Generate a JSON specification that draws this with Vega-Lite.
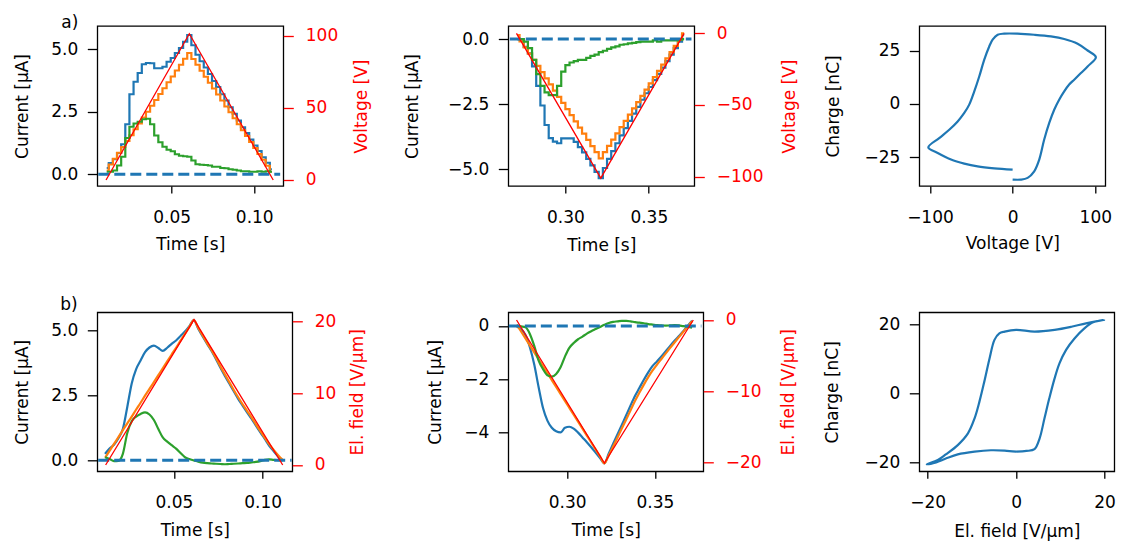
{
"$schema": "https://vega.github.io/schema/vega-lite/v6.json",
"background": "white",
"padding": {"left": 12.3, "top": 13, "right": 2, "bottom": 2},
"datasets": {
"p1": [
{"t":0.0107,"b":0.25,"o":0.15,"g":0.1},{"t":0.0132,"b":0.45,"o":0.39,"g":0.1},{"t":0.0157,"b":0.6,"o":0.62,"g":0.15},{"t":0.0182,"b":0.85,"o":0.86,"g":0.35},{"t":0.0207,"b":1.2,"o":1.09,"g":0.7},{"t":0.0232,"b":2.0,"o":1.33,"g":1.45},{"t":0.0257,"b":3.2,"o":1.56,"g":1.9},{"t":0.0282,"b":3.7,"o":1.8,"g":2.03},{"t":0.0307,"b":4.05,"o":2.03,"g":2.1},{"t":0.0332,"b":4.4,"o":2.27,"g":2.2},{"t":0.0357,"b":4.45,"o":2.5,"g":2.22},{"t":0.0382,"b":4.44,"o":2.74,"g":2.0},{"t":0.0407,"b":4.24,"o":2.97,"g":1.55},{"t":0.0432,"b":4.24,"o":3.21,"g":1.28},{"t":0.0457,"b":4.3,"o":3.44,"g":1.1},{"t":0.0482,"b":4.5,"o":3.68,"g":0.98},{"t":0.0507,"b":4.65,"o":3.91,"g":0.92},{"t":0.0532,"b":4.85,"o":4.15,"g":0.8},{"t":0.0557,"b":5.05,"o":4.38,"g":0.74},{"t":0.0582,"b":5.3,"o":4.62,"g":0.72},{"t":0.0607,"b":5.57,"o":4.85,"g":0.7},{"t":0.0632,"b":5.16,"o":4.61,"g":0.55},{"t":0.0657,"b":4.78,"o":4.38,"g":0.4},{"t":0.0682,"b":4.52,"o":4.14,"g":0.38},{"t":0.0707,"b":4.27,"o":3.9,"g":0.37},{"t":0.0732,"b":4.01,"o":3.66,"g":0.35},{"t":0.0757,"b":3.73,"o":3.43,"g":0.3},{"t":0.0782,"b":3.49,"o":3.19,"g":0.3},{"t":0.0807,"b":3.2,"o":2.95,"g":0.25},{"t":0.0832,"b":2.95,"o":2.71,"g":0.24},{"t":0.0857,"b":2.68,"o":2.48,"g":0.2},{"t":0.0882,"b":2.42,"o":2.24,"g":0.18},{"t":0.0907,"b":2.15,"o":2.0,"g":0.15},{"t":0.0932,"b":1.88,"o":1.76,"g":0.12},{"t":0.0957,"b":1.65,"o":1.53,"g":0.12},{"t":0.0982,"b":1.39,"o":1.29,"g":0.1},{"t":0.1007,"b":1.15,"o":1.05,"g":0.1},{"t":0.1032,"b":0.93,"o":0.81,"g":0.12},{"t":0.1057,"b":0.68,"o":0.58,"g":0.1},{"t":0.1082,"b":0.46,"o":0.34,"g":0.12},{"t":0.1107,"b":0.2,"o":0.1,"g":0.1}
],
"r1": [{"t":0.0103,"v":0},{"t":0.0607,"v":101.5},{"t":0.1115,"v":0}],
"z1": [{"t":0.0056,"z":0},{"t":0.1157,"z":0}],
"p2": [
{"t":0.2712,"b":0.0,"o":0.15,"g":0.0},{"t":0.2737,"b":0.0,"o":-0.09,"g":0.0},{"t":0.2762,"b":-0.3,"o":-0.32,"g":-0.1},{"t":0.2787,"b":-0.55,"o":-0.56,"g":-0.35},{"t":0.2812,"b":-1.05,"o":-0.8,"g":-0.8},{"t":0.2837,"b":-1.8,"o":-1.03,"g":-1.35},{"t":0.2862,"b":-2.55,"o":-1.27,"g":-1.8},{"t":0.2887,"b":-3.3,"o":-1.51,"g":-2.05},{"t":0.2912,"b":-3.8,"o":-1.74,"g":-2.15},{"t":0.2937,"b":-3.94,"o":-1.98,"g":-2.15},{"t":0.2962,"b":-4.0,"o":-2.22,"g":-1.8},{"t":0.2987,"b":-3.81,"o":-2.45,"g":-1.25},{"t":0.3012,"b":-3.81,"o":-2.69,"g":-1.0},{"t":0.3037,"b":-3.81,"o":-2.92,"g":-0.9},{"t":0.3062,"b":-3.95,"o":-3.16,"g":-0.85},{"t":0.3087,"b":-4.15,"o":-3.4,"g":-0.8},{"t":0.3112,"b":-4.35,"o":-3.63,"g":-0.8},{"t":0.3137,"b":-4.6,"o":-3.87,"g":-0.72},{"t":0.3162,"b":-4.85,"o":-4.11,"g":-0.65},{"t":0.3187,"b":-5.1,"o":-4.34,"g":-0.6},{"t":0.3212,"b":-5.34,"o":-4.58,"g":-0.5},{"t":0.3237,"b":-4.95,"o":-4.34,"g":-0.45},{"t":0.3262,"b":-4.6,"o":-4.1,"g":-0.38},{"t":0.3287,"b":-4.3,"o":-3.86,"g":-0.32},{"t":0.3312,"b":-4.0,"o":-3.62,"g":-0.28},{"t":0.3337,"b":-3.7,"o":-3.38,"g":-0.22},{"t":0.3362,"b":-3.42,"o":-3.14,"g":-0.2},{"t":0.3387,"b":-3.14,"o":-2.9,"g":-0.17},{"t":0.3412,"b":-2.86,"o":-2.66,"g":-0.15},{"t":0.3437,"b":-2.6,"o":-2.42,"g":-0.12},{"t":0.3462,"b":-2.33,"o":-2.18,"g":-0.1},{"t":0.3487,"b":-2.08,"o":-1.94,"g":-0.1},{"t":0.3512,"b":-1.84,"o":-1.7,"g":-0.1},{"t":0.3537,"b":-1.58,"o":-1.46,"g":-0.05},{"t":0.3562,"b":-1.34,"o":-1.22,"g":-0.1},{"t":0.3587,"b":-1.1,"o":-0.98,"g":-0.05},{"t":0.3612,"b":-0.85,"o":-0.74,"g":-0.05},{"t":0.3637,"b":-0.6,"o":-0.5,"g":-0.05},{"t":0.3662,"b":-0.35,"o":-0.26,"g":-0.05},{"t":0.3687,"b":-0.1,"o":-0.02,"g":-0.02},{"t":0.3712,"b":0.15,"o":0.22,"g":0.0}
],
"r2": [{"t":0.2706,"v":0},{"t":0.3212,"v":-101},{"t":0.3712,"v":0}],
"z2": [{"t":0.2666,"z":0},{"t":0.3756,"z":0}],
"p3": [
{"i":1,"v":0,"q":-35.5},{"i":2,"v":10,"q":-35.5},{"i":3,"v":18.1,"q":-34.7},{"i":4,"v":26.1,"q":-31.6},{"i":5,"v":32.2,"q":-26.1},{"i":6,"v":38.2,"q":-16.7},{"i":7,"v":44.3,"q":-8.9},{"i":8,"v":50.3,"q":-2.7},{"i":9,"v":56.3,"q":2.0},{"i":10,"v":62.4,"q":5.9},{"i":11,"v":68.4,"q":9.1},{"i":12,"v":74.5,"q":11.4},{"i":13,"v":82.6,"q":14.5},{"i":14,"v":90.7,"q":17.6},{"i":15,"v":100.7,"q":22.0},{"i":16,"v":90.7,"q":25.1},{"i":17,"v":78.6,"q":28.3},{"i":18,"v":62.4,"q":30.5},{"i":19,"v":46.3,"q":31.7},{"i":20,"v":26.1,"q":32.5},{"i":21,"v":5.9,"q":33.0},{"i":22,"v":-10.2,"q":33.0},{"i":23,"v":-18.1,"q":32.5},{"i":24,"v":-24.2,"q":30.2},{"i":25,"v":-28.3,"q":27.0},{"i":26,"v":-34.3,"q":20.8},{"i":27,"v":-40.4,"q":12.9},{"i":28,"v":-46.4,"q":5.9},{"i":29,"v":-52.5,"q":-0.3},{"i":30,"v":-58.5,"q":-4.2},{"i":31,"v":-66.5,"q":-8.2},{"i":32,"v":-76.7,"q":-12.1},{"i":33,"v":-88.8,"q":-16.0},{"i":34,"v":-102,"q":-20.4},{"i":35,"v":-90.7,"q":-23.0},{"i":36,"v":-74.5,"q":-26.1},{"i":37,"v":-58.5,"q":-28.0},{"i":38,"v":-42.4,"q":-29.3},{"i":39,"v":-22.2,"q":-30.2},{"i":40,"v":0,"q":-30.8}
],
"p4": [
{"t":0.0112,"b":0.25,"o":0.1,"g":0.12},{"t":0.0137,"b":0.45,"o":0.36,"g":0.05},{"t":0.0162,"b":0.6,"o":0.63,"g":-0.03},{"t":0.0187,"b":0.85,"o":0.89,"g":-0.02},{"t":0.0212,"b":1.2,"o":1.16,"g":0.25},{"t":0.0237,"b":2.05,"o":1.42,"g":1.05},{"t":0.0262,"b":2.95,"o":1.68,"g":1.5},{"t":0.0287,"b":3.5,"o":1.95,"g":1.68},{"t":0.0312,"b":3.83,"o":2.21,"g":1.78},{"t":0.0337,"b":4.15,"o":2.48,"g":1.84},{"t":0.0362,"b":4.33,"o":2.74,"g":1.76},{"t":0.0387,"b":4.4,"o":3.0,"g":1.55},{"t":0.0412,"b":4.31,"o":3.27,"g":1.2},{"t":0.0437,"b":4.2,"o":3.53,"g":0.88},{"t":0.0462,"b":4.32,"o":3.8,"g":0.72},{"t":0.0487,"b":4.47,"o":4.06,"g":0.58},{"t":0.0512,"b":4.6,"o":4.32,"g":0.45},{"t":0.0537,"b":4.77,"o":4.59,"g":0.28},{"t":0.0562,"b":4.94,"o":4.85,"g":0.12},{"t":0.0587,"b":5.15,"o":5.12,"g":0.05},{"t":0.0612,"b":5.38,"o":5.38,"g":0.0},{"t":0.0637,"b":5.05,"o":5.08,"g":-0.05},{"t":0.0662,"b":4.75,"o":4.79,"g":-0.09},{"t":0.0687,"b":4.47,"o":4.5,"g":-0.11},{"t":0.0712,"b":4.2,"o":4.23,"g":-0.12},{"t":0.0737,"b":3.88,"o":3.93,"g":-0.13},{"t":0.0762,"b":3.55,"o":3.6,"g":-0.14},{"t":0.0787,"b":3.24,"o":3.3,"g":-0.15},{"t":0.0812,"b":2.95,"o":3.0,"g":-0.14},{"t":0.0837,"b":2.65,"o":2.7,"g":-0.13},{"t":0.0862,"b":2.36,"o":2.42,"g":-0.12},{"t":0.0887,"b":2.1,"o":2.15,"g":-0.11},{"t":0.0912,"b":1.84,"o":1.9,"g":-0.1},{"t":0.0937,"b":1.6,"o":1.65,"g":-0.08},{"t":0.0962,"b":1.33,"o":1.38,"g":-0.06},{"t":0.0987,"b":1.07,"o":1.12,"g":-0.03},{"t":0.1012,"b":0.82,"o":0.87,"g":0.02},{"t":0.1037,"b":0.56,"o":0.62,"g":0.04},{"t":0.1062,"b":0.35,"o":0.4,"g":0.02},{"t":0.1087,"b":0.15,"o":0.2,"g":0.01},{"t":0.1112,"b":0.0,"o":0.02,"g":0.0}
],
"r4": [{"t":0.0115,"v":0},{"t":0.0613,"v":20.2},{"t":0.1113,"v":0}],
"z4": [{"t":0.0073,"z":0},{"t":0.1163,"z":0}],
"p5": [
{"t":0.2712,"b":-0.02,"o":0.05,"g":0.0},{"t":0.2737,"b":-0.12,"o":-0.21,"g":-0.02},{"t":0.2762,"b":-0.34,"o":-0.47,"g":-0.05},{"t":0.2787,"b":-0.8,"o":-0.73,"g":-0.3},{"t":0.2812,"b":-1.45,"o":-0.99,"g":-0.75},{"t":0.2837,"b":-2.3,"o":-1.25,"g":-1.3},{"t":0.2862,"b":-3.08,"o":-1.51,"g":-1.62},{"t":0.2887,"b":-3.55,"o":-1.77,"g":-1.85},{"t":0.2912,"b":-3.82,"o":-2.03,"g":-1.9},{"t":0.2937,"b":-3.95,"o":-2.29,"g":-1.8},{"t":0.2962,"b":-3.99,"o":-2.55,"g":-1.55},{"t":0.2987,"b":-3.82,"o":-2.81,"g":-1.15},{"t":0.3012,"b":-3.78,"o":-3.07,"g":-0.82},{"t":0.3037,"b":-3.85,"o":-3.33,"g":-0.64},{"t":0.3062,"b":-4.0,"o":-3.59,"g":-0.5},{"t":0.3087,"b":-4.18,"o":-3.85,"g":-0.4},{"t":0.3112,"b":-4.36,"o":-4.11,"g":-0.29},{"t":0.3137,"b":-4.55,"o":-4.37,"g":-0.2},{"t":0.3162,"b":-4.75,"o":-4.63,"g":-0.12},{"t":0.3187,"b":-4.95,"o":-4.89,"g":-0.04},{"t":0.3212,"b":-5.15,"o":-5.15,"g":0.04},{"t":0.3237,"b":-4.78,"o":-4.85,"g":0.11},{"t":0.3262,"b":-4.42,"o":-4.52,"g":0.15},{"t":0.3287,"b":-4.06,"o":-4.18,"g":0.17},{"t":0.3312,"b":-3.7,"o":-3.84,"g":0.19},{"t":0.3337,"b":-3.34,"o":-3.5,"g":0.19},{"t":0.3362,"b":-2.97,"o":-3.15,"g":0.17},{"t":0.3387,"b":-2.62,"o":-2.81,"g":0.14},{"t":0.3412,"b":-2.32,"o":-2.5,"g":0.12},{"t":0.3437,"b":-2.02,"o":-2.2,"g":0.1},{"t":0.3462,"b":-1.74,"o":-1.92,"g":0.07},{"t":0.3487,"b":-1.5,"o":-1.67,"g":0.05},{"t":0.3512,"b":-1.33,"o":-1.45,"g":0.03},{"t":0.3537,"b":-1.15,"o":-1.24,"g":0.02},{"t":0.3562,"b":-0.95,"o":-1.03,"g":0.01},{"t":0.3587,"b":-0.75,"o":-0.82,"g":0.02},{"t":0.3612,"b":-0.56,"o":-0.62,"g":0.03},{"t":0.3637,"b":-0.38,"o":-0.42,"g":0.02},{"t":0.3662,"b":-0.2,"o":-0.22,"g":-0.01},{"t":0.3687,"b":0.0,"o":-0.02,"g":-0.03},{"t":0.3712,"b":0.19,"o":0.18,"g":-0.07}
],
"r5": [{"t":0.2711,"v":0},{"t":0.3212,"v":-20.1},{"t":0.3719,"v":0}],
"z5": [{"t":0.2667,"z":0},{"t":0.3765,"z":0}],
"p6": [
{"i":1,"e":0,"q":-16.9},{"i":2,"e":2.3,"q":-16.7},{"i":3,"e":4.15,"q":-16.2},{"i":4,"e":5.3,"q":-13.1},{"i":5,"e":6.4,"q":-7.3},{"i":6,"e":7.5,"q":-1.45},{"i":7,"e":8.7,"q":4.35},{"i":8,"e":9.8,"q":8.7},{"i":9,"e":11.3,"q":12.6},{"i":10,"e":13.2,"q":15.9},{"i":11,"e":15.5,"q":18.9},{"i":12,"e":17.4,"q":20.6},{"i":13,"e":19.9,"q":21.3},{"i":14,"e":15.8,"q":20.3},{"i":15,"e":12.5,"q":19.3},{"i":16,"e":8.7,"q":18.4},{"i":17,"e":4.15,"q":17.9},{"i":18,"e":0,"q":18.4},{"i":19,"e":-2.6,"q":17.9},{"i":20,"e":-3.8,"q":17.4},{"i":21,"e":-4.9,"q":15.5},{"i":22,"e":-6.0,"q":10.2},{"i":23,"e":-7.2,"q":3.4},{"i":24,"e":-8.3,"q":-2.4},{"i":25,"e":-9.4,"q":-7.25},{"i":26,"e":-10.9,"q":-11.6},{"i":27,"e":-13.2,"q":-15.0},{"i":28,"e":-15.9,"q":-17.7},{"i":29,"e":-17.7,"q":-19.3},{"i":30,"e":-20.2,"q":-20.6},{"i":31,"e":-18.1,"q":-20.0},{"i":32,"e":-15.9,"q":-18.9},{"i":33,"e":-13.2,"q":-17.7},{"i":34,"e":-9.4,"q":-16.9},{"i":35,"e":-5.7,"q":-16.5},{"i":36,"e":-2.6,"q":-16.6},{"i":37,"e":0,"q":-16.9}
]
},
"columns": 3,
"spacing": {"row": 126.3, "column": 216},
"bounds": "flush",
"concat": [
{
"width": 186, "height": 160,
"title": {"text": "a)", "dx": -36, "offset": -19, "baseline": "alphabetic"},
"layer": [
{"layer": [
{"data": {"name": "p1"}, "mark": {"type": "line", "color": "#1f77b4", "strokeWidth": 2.2, "interpolate": "step"},
 "encoding": {"x": {"field": "t", "type": "quantitative", "scale": {"domain": [0.005, 0.1176], "nice": false, "zero": false}, "axis": {"values": [0.05, 0.1], "format": ".2f", "title": "Time [s]", "titleX": 93, "titleY": 58}},
 "y": {"field": "b", "type": "quantitative", "scale": {"domain": [-0.47, 5.93], "nice": false, "zero": false}, "axis": {"values": [0, 2.5, 5], "format": ".1f", "title": "Current [μA]", "titleX": -75, "titleY": 80}}}},
{"data": {"name": "p1"}, "mark": {"type": "line", "color": "#ff7f0e", "strokeWidth": 2.2, "interpolate": "step"},
 "encoding": {"x": {"field": "t", "type": "quantitative", "scale": {"domain": [0.005, 0.1176], "nice": false, "zero": false}},
 "y": {"field": "o", "type": "quantitative", "scale": {"domain": [-0.47, 5.93], "nice": false, "zero": false}}}},
{"data": {"name": "p1"}, "mark": {"type": "line", "color": "#2ca02c", "strokeWidth": 2.2, "interpolate": "step"},
 "encoding": {"x": {"field": "t", "type": "quantitative", "scale": {"domain": [0.005, 0.1176], "nice": false, "zero": false}},
 "y": {"field": "g", "type": "quantitative", "scale": {"domain": [-0.47, 5.93], "nice": false, "zero": false}}}},
{"data": {"name": "z1"}, "mark": {"type": "line", "color": "#1f77b4", "strokeWidth": 3, "strokeDash": [11, 5]},
 "encoding": {"x": {"field": "t", "type": "quantitative", "scale": {"domain": [0.005, 0.1176], "nice": false, "zero": false}},
 "y": {"field": "z", "type": "quantitative", "scale": {"domain": [-0.47, 5.93], "nice": false, "zero": false}}}}
]},
{"data": {"name": "r1"}, "mark": {"type": "line", "color": "#ff0000", "strokeWidth": 1.3},
 "encoding": {"x": {"field": "t", "type": "quantitative", "scale": {"domain": [0.005, 0.1176], "nice": false, "zero": false}},
 "y": {"field": "v", "type": "quantitative", "scale": {"domain": [-4.2, 106.9], "nice": false, "zero": false}, "axis": {"orient": "right", "values": [0, 50, 100], "format": "d", "title": "Voltage [V]", "titleX": 78, "titleY": 80, "labelPadding": 12, "labelColor": "#ff0000", "titleColor": "#ff0000", "tickColor": "#ff0000"}}}}
],
"resolve": {"scale": {"y": "independent"}}
},
{
"width": 186, "height": 160,
"layer": [
{"layer": [
{"data": {"name": "p2"}, "mark": {"type": "line", "color": "#1f77b4", "strokeWidth": 2.2, "interpolate": "step"},
 "encoding": {"x": {"field": "t", "type": "quantitative", "scale": {"domain": [0.2657, 0.3773], "nice": false, "zero": false}, "axis": {"values": [0.3, 0.35], "format": ".2f", "title": "Time [s]", "titleX": 93, "titleY": 59}},
 "y": {"field": "b", "type": "quantitative", "scale": {"domain": [-5.64, 0.5], "nice": false, "zero": false}, "axis": {"values": [-5, -2.5, 0], "format": ".1f", "title": "Current [μA]", "titleX": -96, "titleY": 80}}}},
{"data": {"name": "p2"}, "mark": {"type": "line", "color": "#ff7f0e", "strokeWidth": 2.2, "interpolate": "step"},
 "encoding": {"x": {"field": "t", "type": "quantitative", "scale": {"domain": [0.2657, 0.3773], "nice": false, "zero": false}},
 "y": {"field": "o", "type": "quantitative", "scale": {"domain": [-5.64, 0.5], "nice": false, "zero": false}}}},
{"data": {"name": "p2"}, "mark": {"type": "line", "color": "#2ca02c", "strokeWidth": 2.2, "interpolate": "step"},
 "encoding": {"x": {"field": "t", "type": "quantitative", "scale": {"domain": [0.2657, 0.3773], "nice": false, "zero": false}},
 "y": {"field": "g", "type": "quantitative", "scale": {"domain": [-5.64, 0.5], "nice": false, "zero": false}}}},
{"data": {"name": "z2"}, "mark": {"type": "line", "color": "#1f77b4", "strokeWidth": 3, "strokeDash": [11, 5]},
 "encoding": {"x": {"field": "t", "type": "quantitative", "scale": {"domain": [0.2657, 0.3773], "nice": false, "zero": false}},
 "y": {"field": "z", "type": "quantitative", "scale": {"domain": [-5.64, 0.5], "nice": false, "zero": false}}}}
]},
{"data": {"name": "r2"}, "mark": {"type": "line", "color": "#ff0000", "strokeWidth": 1.3},
 "encoding": {"x": {"field": "t", "type": "quantitative", "scale": {"domain": [0.2657, 0.3773], "nice": false, "zero": false}},
 "y": {"field": "v", "type": "quantitative", "scale": {"domain": [-106.5, 5.1], "nice": false, "zero": false}, "axis": {"orient": "right", "values": [-100, -50, 0], "format": "d", "title": "Voltage [V]", "titleX": 95.6, "titleY": 80, "labelPadding": 12, "labelColor": "#ff0000", "titleColor": "#ff0000", "tickColor": "#ff0000"}}}}
],
"resolve": {"scale": {"y": "independent"}}
},
{
"width": 186, "height": 160,
"data": {"name": "p3"},
"mark": {"type": "line", "color": "#1f77b4", "strokeWidth": 2.2, "interpolate": "catmull-rom"},
"encoding": {
"x": {"field": "v", "type": "quantitative", "scale": {"domain": [-112.9, 112.1], "nice": false, "zero": false}, "axis": {"values": [-100, 0, 100], "format": "d", "title": "Voltage [V]", "titleX": 93, "titleY": 57}},
"y": {"field": "q", "type": "quantitative", "scale": {"domain": [-38.5, 36.6], "nice": false, "zero": false}, "axis": {"values": [-25, 0, 25], "format": "d", "title": "Charge [nC]", "titleX": -86, "titleY": 80}},
"order": {"field": "i", "type": "quantitative"}
}
},
{
"width": 195, "height": 159,
"title": {"text": "b)", "dx": -37, "offset": -15, "baseline": "alphabetic"},
"layer": [
{"layer": [
{"data": {"name": "p4"}, "mark": {"type": "line", "color": "#1f77b4", "strokeWidth": 2.2, "interpolate": "monotone"},
 "encoding": {"x": {"field": "t", "type": "quantitative", "scale": {"domain": [0.0068, 0.1167], "nice": false, "zero": false}, "axis": {"values": [0.05, 0.1], "format": ".2f", "title": "Time [s]", "titleX": 97.5, "titleY": 59}},
 "y": {"field": "b", "type": "quantitative", "scale": {"domain": [-0.42, 5.68], "nice": false, "zero": false}, "axis": {"values": [0, 2.5, 5], "format": ".1f", "title": "Current [μA]", "titleX": -75, "titleY": 79.5}}}},
{"data": {"name": "p4"}, "mark": {"type": "line", "color": "#ff7f0e", "strokeWidth": 2.2, "interpolate": "monotone"},
 "encoding": {"x": {"field": "t", "type": "quantitative", "scale": {"domain": [0.0068, 0.1167], "nice": false, "zero": false}},
 "y": {"field": "o", "type": "quantitative", "scale": {"domain": [-0.42, 5.68], "nice": false, "zero": false}}}},
{"data": {"name": "p4"}, "mark": {"type": "line", "color": "#2ca02c", "strokeWidth": 2.2, "interpolate": "monotone"},
 "encoding": {"x": {"field": "t", "type": "quantitative", "scale": {"domain": [0.0068, 0.1167], "nice": false, "zero": false}},
 "y": {"field": "g", "type": "quantitative", "scale": {"domain": [-0.42, 5.68], "nice": false, "zero": false}}}},
{"data": {"name": "z4"}, "mark": {"type": "line", "color": "#1f77b4", "strokeWidth": 3, "strokeDash": [11, 5]},
 "encoding": {"x": {"field": "t", "type": "quantitative", "scale": {"domain": [0.0068, 0.1167], "nice": false, "zero": false}},
 "y": {"field": "z", "type": "quantitative", "scale": {"domain": [-0.42, 5.68], "nice": false, "zero": false}}}}
]},
{"data": {"name": "r4"}, "mark": {"type": "line", "color": "#ff0000", "strokeWidth": 1.3},
 "encoding": {"x": {"field": "t", "type": "quantitative", "scale": {"domain": [0.0068, 0.1167], "nice": false, "zero": false}},
 "y": {"field": "v", "type": "quantitative", "scale": {"domain": [-0.875, 21.21], "nice": false, "zero": false}, "axis": {"orient": "right", "values": [0, 10, 20], "format": "d", "title": "El. field [V/μm]", "titleX": 65, "titleY": 79.5, "labelPadding": 12, "labelColor": "#ff0000", "titleColor": "#ff0000", "tickColor": "#ff0000"}}}}
],
"resolve": {"scale": {"y": "independent"}}
},
{
"width": 195, "height": 159,
"layer": [
{"layer": [
{"data": {"name": "p5"}, "mark": {"type": "line", "color": "#1f77b4", "strokeWidth": 2.2, "interpolate": "monotone"},
 "encoding": {"x": {"field": "t", "type": "quantitative", "scale": {"domain": [0.2664, 0.3776], "nice": false, "zero": false}, "axis": {"values": [0.3, 0.35], "format": ".2f", "title": "Time [s]", "titleX": 97.5, "titleY": 59}},
 "y": {"field": "b", "type": "quantitative", "scale": {"domain": [-5.45, 0.51], "nice": false, "zero": false}, "axis": {"values": [-4, -2, 0], "format": "d", "title": "Current [μA]", "titleX": -73, "titleY": 79.5}}}},
{"data": {"name": "p5"}, "mark": {"type": "line", "color": "#ff7f0e", "strokeWidth": 2.2, "interpolate": "monotone"},
 "encoding": {"x": {"field": "t", "type": "quantitative", "scale": {"domain": [0.2664, 0.3776], "nice": false, "zero": false}},
 "y": {"field": "o", "type": "quantitative", "scale": {"domain": [-5.45, 0.51], "nice": false, "zero": false}}}},
{"data": {"name": "p5"}, "mark": {"type": "line", "color": "#2ca02c", "strokeWidth": 2.2, "interpolate": "monotone"},
 "encoding": {"x": {"field": "t", "type": "quantitative", "scale": {"domain": [0.2664, 0.3776], "nice": false, "zero": false}},
 "y": {"field": "g", "type": "quantitative", "scale": {"domain": [-5.45, 0.51], "nice": false, "zero": false}}}},
{"data": {"name": "z5"}, "mark": {"type": "line", "color": "#1f77b4", "strokeWidth": 3, "strokeDash": [11, 5]},
 "encoding": {"x": {"field": "t", "type": "quantitative", "scale": {"domain": [0.2664, 0.3776], "nice": false, "zero": false}},
 "y": {"field": "z", "type": "quantitative", "scale": {"domain": [-5.45, 0.51], "nice": false, "zero": false}}}}
]},
{"data": {"name": "r5"}, "mark": {"type": "line", "color": "#ff0000", "strokeWidth": 1.3},
 "encoding": {"x": {"field": "t", "type": "quantitative", "scale": {"domain": [0.2664, 0.3776], "nice": false, "zero": false}},
 "y": {"field": "v", "type": "quantitative", "scale": {"domain": [-21.25, 1.08], "nice": false, "zero": false}, "axis": {"orient": "right", "values": [-20, -10, 0], "format": "d", "title": "El. field [V/μm]", "titleX": 85.5, "titleY": 79.5, "labelPadding": 12, "labelColor": "#ff0000", "titleColor": "#ff0000", "tickColor": "#ff0000"}}}}
],
"resolve": {"scale": {"y": "independent"}}
},
{
"width": 195, "height": 159,
"data": {"name": "p6"},
"mark": {"type": "line", "color": "#1f77b4", "strokeWidth": 2.2, "interpolate": "catmull-rom"},
"encoding": {
"x": {"field": "e", "type": "quantitative", "scale": {"domain": [-21.9, 22.2], "nice": false, "zero": false}, "axis": {"values": [-20, 0, 20], "format": "d", "title": "El. field [V/μm]", "titleX": 97.5, "titleY": 60}},
"y": {"field": "q", "type": "quantitative", "scale": {"domain": [-22.6, 23.5], "nice": false, "zero": false}, "axis": {"values": [-20, 0, 20], "format": "d", "title": "Charge [nC]", "titleX": -86.6, "titleY": 79.5}},
"order": {"field": "i", "type": "quantitative"}
}
}
],
"config": {
"font": "DejaVu Sans",
"view": {"stroke": "#000000", "strokeWidth": 1.3},
"axis": {"domain": false, "grid": false, "labelFont": "DejaVu Sans", "labelFontSize": 17, "labelColor": "#000000", "titleFont": "DejaVu Sans", "titleFontSize": 17, "titleFontWeight": "normal", "titleColor": "#000000", "tickColor": "#000000", "tickWidth": 1.3, "labelFlush": false, "labelOverlap": false, "labelBound": false},
"axisX": {"tickSize": 7, "labelPadding": 16, "titleBaseline": "middle"},
"axisY": {"tickSize": 10, "labelPadding": 9.5, "titleAngle": 270, "titleBaseline": "middle", "titleAlign": "center"},
"title": {"font": "DejaVu Sans", "fontSize": 17, "fontWeight": "normal", "color": "#000000", "anchor": "start", "frame": "group"}
}
}
